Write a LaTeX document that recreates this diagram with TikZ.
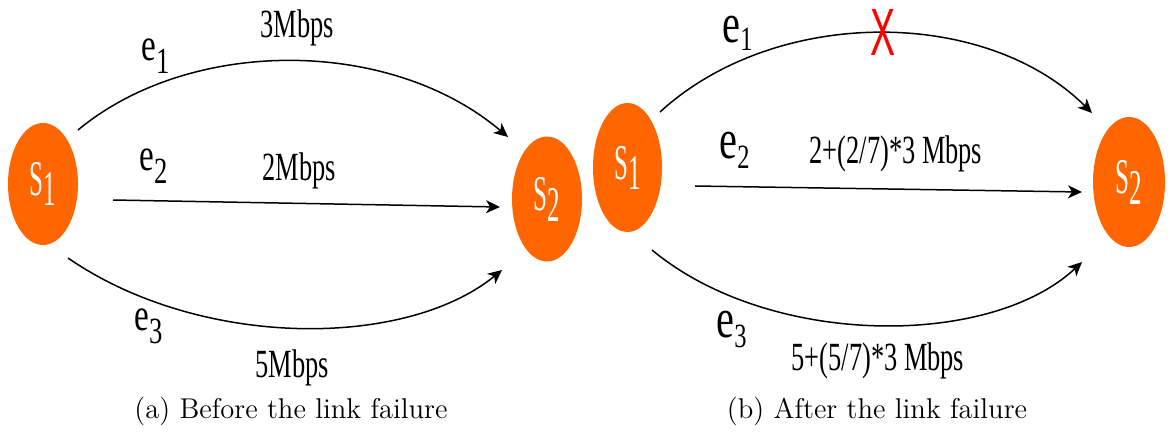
\documentclass[tikz,border=0pt]{standalone}
\usepackage{fontspec}
\usetikzlibrary{arrows.meta,shapes.geometric}
\newfontfamily\ratefont[FakeStretch=0.66]{Liberation Serif}
\newfontfamily\edgefont[FakeStretch=0.72]{Liberation Serif}
\newfontfamily\hostfont[FakeStretch=0.5]{Liberation Serif}
\newfontfamily\cutfont[FakeStretch=0.56]{Liberation Sans}
\definecolor{hostorange}{HTML}{FF6600}
% edge name: e with a lowered index (sizes of e and index, drop, index)
\newcommand\elabel[4]{{\edgefont\fontsize{#1}{#1}\selectfont e}\raisebox{-#3}{\edgefont\fontsize{#2}{#2}\selectfont #4}}
\tikzset{
  host/.style={ellipse, fill=hostorange, inner sep=0pt, text=white,
    font=\hostfont\fontsize{25}{25}\selectfont},
  link/.style={line width=0.75pt, -{Stealth[length=7pt,width=6.5pt,inset=2pt]}},
  rate/.style={font=\ratefont\fontsize{20}{20}\selectfont, inner sep=0pt, anchor=base},
  ename/.style={inner sep=0pt, anchor=base west},
  caption/.style={font=\fontsize{14.3}{17}\selectfont, inner sep=0pt, anchor=base},
  cut/.style={font=\cutfont\fontsize{33.5}{33.5}\selectfont, text=red, inner sep=0pt, anchor=base},
}
\begin{document}
\begin{tikzpicture}[x=0.5pt,y=-0.5pt]
\useasboundingbox (0,0) rectangle (1170,434);

% ---- (a) before the failure ----
\node[host, minimum width=35pt, minimum height=61pt] (s1a) at (43,184) {S\raisebox{-5pt}{1}};
\node[host, minimum width=35pt, minimum height=62.5pt] (s2a) at (547,199) {S\raisebox{-5.5pt}{2}};

\draw[link] ([shift={(35,-54)}]s1a.center) .. controls (190,37) and (390,37) .. ([shift={(-39,-62)}]s2a.center);
\draw[link] ([shift={(70,16)}]s1a.center) -- ([shift={(-47,8)}]s2a.center);
\draw[link] ([shift={(25,74)}]s1a.center) .. controls (200,349) and (405,349) .. ([shift={(-45,71)}]s2a.center);

\node[ename] (e1a) at (141,60)  {\elabel{23}{18.5}{6.5pt}{1}};
\node[ename] (e2a) at (139,170) {\elabel{23}{18.5}{6.5pt}{2}};
\node[ename] (e3a) at (134,330) {\elabel{23}{18.5}{6.5pt}{3}};

\node[rate] (r1a) at (297,37)  {3Mbps};
\node[rate] (r2a) at (299,180) {2Mbps};
\node[rate] (r3a) at (292,377) {5Mbps};

\node[caption] (capa) at (291,418) {(a) Before the link failure};

% ---- (b) after the failure ----
\node[host, minimum width=34.5pt, minimum height=64.5pt] (s1b) at (627.5,167.5) {S\raisebox{-5pt}{1}};
\node[host, minimum width=36pt, minimum height=65pt] (s2b) at (1129,182) {S\raisebox{-5.5pt}{2}};

\draw[link] ([shift={(32.5,-55.5)}]s1b.center) .. controls (775,6.5) and (985,6.5) .. ([shift={(-37,-69)}]s2b.center);
\draw[link] ([shift={(67.5,18.5)}]s1b.center) -- ([shift={(-47,10)}]s2b.center);
\draw[link] ([shift={(24.5,82.5)}]s1b.center) .. controls (770,348) and (990,348) .. ([shift={(-47,80)}]s2b.center);

\node[cut] (x1) at (883,55) {X};

\node[ename] (e1b) at (722,42)  {\elabel{28}{17}{4pt}{1}};
\node[ename] (e2b) at (719,158) {\elabel{28}{17}{5pt}{2}};
\node[ename] (e3b) at (716,337) {\elabel{28}{17}{5pt}{3}};

\node[rate] (r2b) at (896,163) {2+(2/7)*3 Mbps};
\node[rate] (r3b) at (878,370) {5+(5/7)*3 Mbps};

\node[caption] (capb) at (877,418) {(b) After the link failure};
\end{tikzpicture}
\end{document}
